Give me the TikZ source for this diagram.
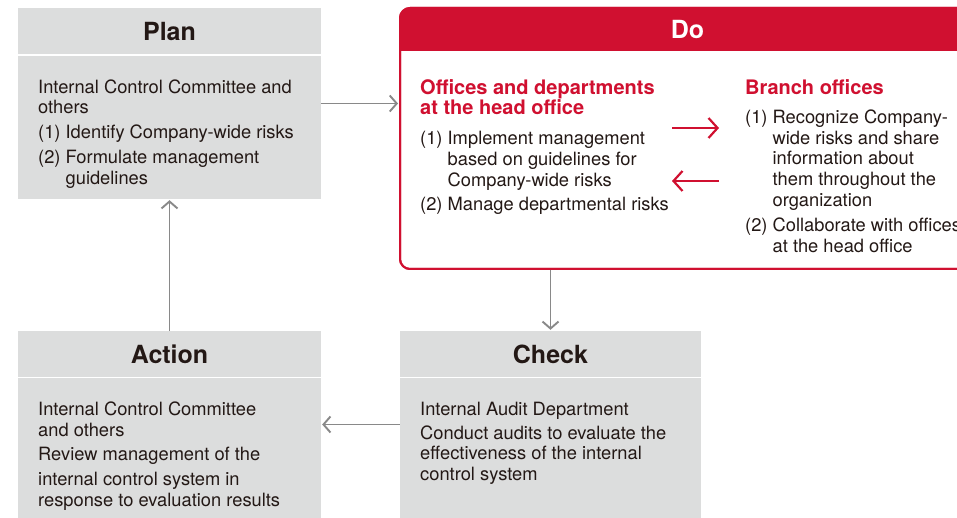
\documentclass[tikz,border=0pt]{standalone}
\usepackage{fontspec}
\setmainfont{TeX Gyre Heros}
\usetikzlibrary{arrows.meta}
\definecolor{boxgray}{RGB}{220,221,221}
\definecolor{dored}{RGB}{208,16,48}
\definecolor{argray}{RGB}{137,137,137}
\definecolor{txt}{RGB}{35,24,21}
\begin{document}
\begin{tikzpicture}[x=1pt,y=-1pt,
  graybox/.style={fill=boxgray, draw=none, inner sep=0pt},
  sepline/.style={draw=white, line width=1.2pt},
  titletext/.style={font=\bfseries\fontsize{25}{25}\selectfont, text=txt, inner sep=0pt},
  bodytext/.style={font=\fontsize{18.3}{21}\selectfont, text=txt, align=left, anchor=north west, inner sep=0pt},
  redhead/.style={font=\bfseries\fontsize{20}{20}\selectfont, text=dored, align=left, anchor=north west, inner sep=0pt},
  grayarr/.style={draw=argray, line width=1.9pt, -{Straight Barb[length=7pt,width=16pt]}, shorten >=1pt},
  redarr/.style={draw=dored, line width=2.2pt, -{Straight Barb[length=9pt,width=20pt]}}
]
\useasboundingbox (0,0) rectangle (957,518);
\clip (0,0) rectangle (957,518);
\fill[white] (0,0) rectangle (957,518);

% boxes
\node[graybox, minimum width=303pt, minimum height=191pt] (plan) at (169.5,103.5) {};
\node[graybox, minimum width=303pt, minimum height=187pt] (action) at (169.5,424.5) {};
\node[graybox, minimum width=301pt, minimum height=187pt] (check) at (550.5,424.5) {};
\node[draw=dored, fill=white, line width=2pt, rounded corners=10pt, inner sep=0pt,
      minimum width=575pt, minimum height=261pt] (do) at (687.5,138.5) {};
\begin{scope}
  \clip[rounded corners=10pt] (400,8) rectangle (975,269);
  \fill[dored] (400,8) rectangle (975,51);
\end{scope}
\draw[dored, line width=2pt, rounded corners=10pt] (400,8) rectangle (975,269);

% separators
\draw[sepline] (18,55) -- (321,55);
\draw[sepline] (18,377.5) -- (321,377.5);
\draw[sepline] (400,377.5) -- (701,377.5);

% titles
\node[titletext] (plantitle) at (169.5,32) {Plan};
\node[titletext, text=white] (dotitle) at (687.5,30) {Do};
\node[titletext] (actiontitle) at (169.5,354) {Action};
\node[titletext] (checktitle) at (550.5,354) {Check};

% texts
\node[bodytext, font=\fontsize{18.3}{20.5}\selectfont] (plantext) at (38,79.5) {Internal Control Committee and\\others\\[4.5pt](1) Identify Company-wide risks\\[4.5pt](2) Formulate management\\\hphantom{(2) }guidelines};

\node[redhead] (hohead) at (420,79.6) {Offices and departments\\at the head office};
\node[bodytext] (hotext) at (420,130.5) {(1) Implement management\\\hphantom{(1) }based on guidelines for\\\hphantom{(1) }Company-wide risks\\[3pt](2) Manage departmental risks};

\node[redhead] (brhead) at (745,79.6) {Branch offices};
\node[bodytext, font=\fontsize{18.3}{20.8}\selectfont] (brtext) at (745,109.5) {(1) Recognize Company-\\\hphantom{(1) }wide risks and share\\\hphantom{(1) }information about\\\hphantom{(1) }them throughout the\\\hphantom{(1) }organization\\[4pt](2) Collaborate with offices\\\hphantom{(2) }at the head office};

\node[bodytext] (actiontext) at (38,401.5) {Internal Control Committee\\and others\\[3pt]Review management of the\\[4pt]internal control system in\\response to evaluation results};

\node[bodytext] (checktext) at (420,401.5) {Internal Audit Department\\[3pt]Conduct audits to evaluate the\\[-1pt]effectiveness of the internal\\control system};

% connectors
\draw[grayarr] (plan.east) -- (plan.east -| do.west);
\draw[grayarr] (check.north |- do.south) -- (check.north);
\draw[grayarr] (check.west) -- (action.east);
\draw[grayarr] (action.north) -- (plan.south);

\coordinate (ra1) at (672,128);
\coordinate (ra2) at (719,128);
\coordinate (rb1) at (719,181);
\coordinate (rb2) at (672,181);
\draw[redarr] (ra1) -- (ra2);
\draw[redarr] (rb1) -- (rb2);
\end{tikzpicture}
\end{document}
